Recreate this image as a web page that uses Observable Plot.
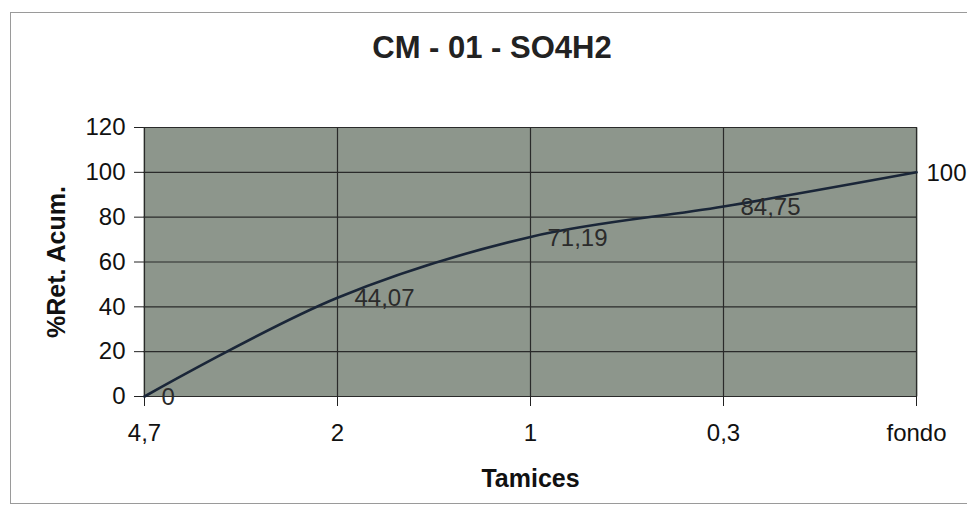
<!DOCTYPE html>
<html><head><meta charset="utf-8">
<script src="https://cdn.jsdelivr.net/npm/d3@7"></script>
<script src="https://cdn.jsdelivr.net/npm/@observablehq/plot@0.6"></script>
<style>
body{margin:0;background:#fff;font-family:"Liberation Sans",Arial,sans-serif;}
#wrap{position:relative;width:967px;height:514px;overflow:hidden;}
#frame{position:absolute;left:10px;top:12px;width:970px;height:492px;border:1px solid #9a9a9a;box-sizing:border-box;}
#title{position:absolute;left:2px;width:980px;top:30px;text-align:center;font-family:"Liberation Sans",Arial,sans-serif;font-weight:bold;font-size:31px;line-height:36px;color:#222;}
#chart{position:absolute;left:0;top:0;}
</style></head>
<body><div id="wrap"><div id="frame"></div><div id="title">CM - 01 - SO4H2</div><div id="chart"></div></div>
<script>
const tamices = ["4,7","2","1","0,3","fondo"];
const retAcum = [0, 44.07, 71.19, 84.75, 100];
const etiquetas = ["0","44,07","71,19","84,75","100"];
const yTicks = [0,20,40,60,80,100,120];

const data = tamices.map((t,i)=>({t, v: retAcum[i], lab: etiquetas[i]}));
const inner = data.slice(0, data.length-1);
const last = data.slice(data.length-1);

const plot = Plot.plot({
  width: 967, height: 514,
  marginLeft: 143, marginRight: 50, marginTop: 127, marginBottom: 118,
  style: {background: "transparent", fontFamily: "'Liberation Sans', Arial, sans-serif", fontSize: "24px", color: "#111"},
  x: {type: "point", domain: tamices, padding: 0},
  y: {domain: [0,120]},
  marks: [
    Plot.frame({fill: "#8d968c", stroke: null}),
    Plot.gridY(yTicks, {stroke: "#2a2a2a", strokeOpacity: 1, strokeWidth: 1.2}),
    Plot.gridX(tamices, {stroke: "#2a2a2a", strokeOpacity: 1, strokeWidth: 1.2}),
    Plot.axisY(yTicks, {tickSize: 9, tickPadding: 9, fontSize: 24, stroke: "#222", fill: "#111", label: "%Ret. Acum.", labelAnchor: "center", labelArrow: "none", labelOffset: 96}),
    Plot.axisX(tamices, {tickSize: 10, tickPadding: 17, fontSize: 24, stroke: "#222", fill: "#111", label: "Tamices", labelAnchor: "center", labelArrow: "none", labelOffset: 90}),
    Plot.line(data, {x: "t", y: "v", curve: "catmull-rom", stroke: "#1a2638", strokeWidth: 2.6}),
    Plot.text(inner, {x: "t", y: "v", text: "lab", textAnchor: "start", dx: 17, dy: 1, fill: "#2b2b2b", fontSize: 24}),
    Plot.text(last, {x: "t", y: "v", text: "lab", textAnchor: "start", dx: 10, dy: 1, fill: "#111", fontSize: 24})
  ]
});
document.getElementById("chart").appendChild(plot);
d3.select(plot).selectAll('[aria-label="y-axis label"] text, [aria-label="x-axis label"] text')
  .style("font-weight","bold").style("font-size","25px").attr("fill","#111");
</script></body></html>
